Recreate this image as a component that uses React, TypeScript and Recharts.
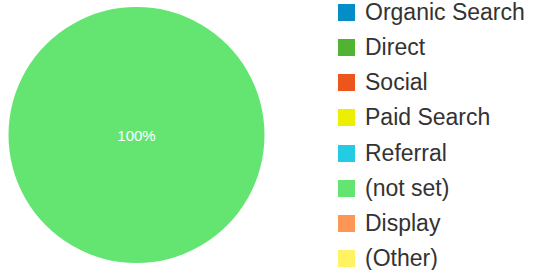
import React from "react";
import { PieChart, Pie, Cell, Legend } from "recharts";

const channels = ["Organic Search", "Direct", "Social", "Paid Search", "Referral", "(not set)", "Display", "(Other)"];
const shares = [0, 0, 0, 0, 0, 100, 0, 0];
const colors = ["#058DC7", "#50B432", "#ED561B", "#EDEF00", "#24CBE5", "#64E572", "#FF9655", "#FFF263"];

const data = channels.map((name, i) => ({ name, value: shares[i] }));

// legend à droite, une ligne par canal
const renderLegend = () => (
  <div style={{ fontFamily: "Arial, 'Liberation Sans', sans-serif", fontSize: 23, lineHeight: "23px", color: "#333" }}>
    {channels.map((name, i) => (
      <div key={name} style={{ display: "flex", alignItems: "center", height: 35.25 }}>
        <span style={{ display: "inline-block", width: 17, height: 17, background: colors[i], marginRight: 10 }} />
        <span>{name}</span>
      </div>
    ))}
  </div>
);

const renderLabel = (props: any) => {
  if (!props.value) return null;
  return (
    <text x={props.cx} y={props.cy + 6} fill="#fff" textAnchor="middle" fontSize={15} fontFamily="Arial, 'Liberation Sans', sans-serif">
      {`${Math.round(props.percent * 100)}%`}
    </text>
  );
};

export default function App() {
  return (
    <div style={{ position: "absolute", left: 0, top: 0 }}>
      <style>{"body{margin:0}"}</style>
      <PieChart width={533} height={270}>
        <Pie
          data={data}
          dataKey="value"
          nameKey="name"
          cx={131.5}
          cy={130}
          outerRadius={128}
          startAngle={90}
          endAngle={-270}
          stroke="none"
          label={renderLabel}
          labelLine={false}
          isAnimationActive={false}
        >
          {data.map((d, i) => (
            <Cell key={d.name} fill={colors[i]} />
          ))}
        </Pie>
        <Legend content={renderLegend} layout="vertical" wrapperStyle={{ left: 338, top: -5.5, width: 195 }} />
      </PieChart>
    </div>
  );
}
